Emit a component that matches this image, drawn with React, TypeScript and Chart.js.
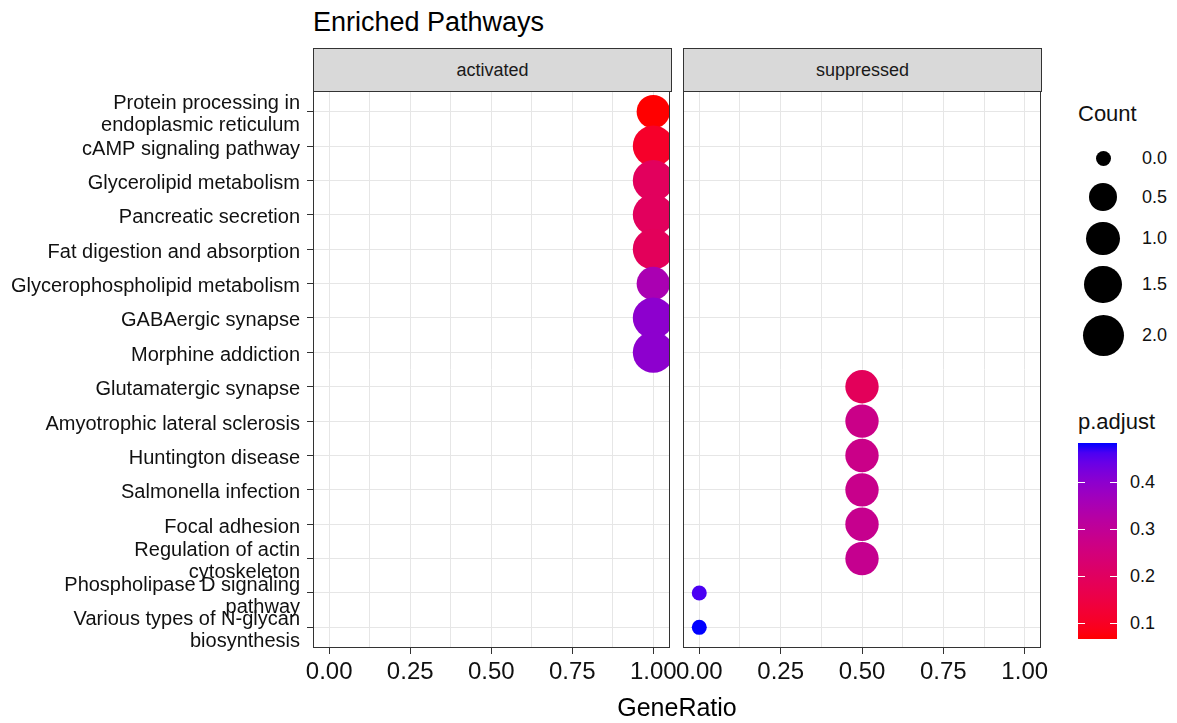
import React, { useEffect, useRef } from "react";
import { Chart, registerables } from "chart.js";

Chart.register(...registerables);

const FONT = "'Liberation Sans', Arial, Helvetica, sans-serif";
Chart.defaults.font.family = FONT;

// ---------- data ----------
const categories = [
  "Protein processing in\nendoplasmic reticulum",
  "cAMP signaling pathway",
  "Glycerolipid metabolism",
  "Pancreatic secretion",
  "Fat digestion and absorption",
  "Glycerophospholipid metabolism",
  "GABAergic synapse",
  "Morphine addiction",
  "Glutamatergic synapse",
  "Amyotrophic lateral sclerosis",
  "Huntington disease",
  "Salmonella infection",
  "Focal adhesion",
  "Regulation of actin\ncytoskeleton",
  "Phospholipase D signaling\npathway",
  "Various types of N-glycan\nbiosynthesis",
];
const groups = [
  "activated", "activated", "activated", "activated", "activated", "activated", "activated", "activated",
  "suppressed", "suppressed", "suppressed", "suppressed", "suppressed", "suppressed", "suppressed", "suppressed",
];
const facets = ["activated", "suppressed"];
const geneRatio = [1, 1, 1, 1, 1, 1, 1, 1, 0.5, 0.5, 0.5, 0.5, 0.5, 0.5, 0, 0];
const counts = [1, 2, 2, 2, 2, 1, 2, 2, 1, 1, 1, 1, 1, 1, 0, 0];
const pAdjust = [0.066, 0.108, 0.195, 0.195, 0.19, 0.35, 0.4, 0.4, 0.19, 0.275, 0.275, 0.28, 0.285, 0.287, 0.463, 0.484];
const xTicks = [0, 0.25, 0.5, 0.75, 1];
const countBreaks = [0, 0.5, 1, 1.5, 2];
const pBreaks = [0.1, 0.2, 0.3, 0.4];

// ---------- scales (size / colour) ----------
const SIZE_MIN = 15;
const SIZE_MAX = 41;
const cMin = Math.min(...counts);
const cMax = Math.max(...counts);
function diameterFor(c: number) {
  const f = Math.sqrt(Math.max(0, (c - cMin) / (cMax - cMin)));
  return SIZE_MIN + (SIZE_MAX - SIZE_MIN) * f;
}

function toLin(c: number) {
  c /= 255;
  return c <= 0.04045 ? c / 12.92 : Math.pow((c + 0.055) / 1.055, 2.4);
}
function fromLin(c: number) {
  c = Math.max(0, Math.min(1, c));
  const v = c <= 0.0031308 ? 12.92 * c : 1.055 * Math.pow(c, 1 / 2.4) - 0.055;
  return Math.round(v * 255);
}
function rgbToLab(rgb: number[]) {
  const R = toLin(rgb[0]), G = toLin(rgb[1]), B = toLin(rgb[2]);
  const X = (0.4124 * R + 0.3576 * G + 0.1805 * B) / 0.95047;
  const Y = 0.2126 * R + 0.7152 * G + 0.0722 * B;
  const Z = (0.0193 * R + 0.1192 * G + 0.9505 * B) / 1.08883;
  const f = (t: number) => (t > 0.008856 ? Math.cbrt(t) : 7.787 * t + 16 / 116);
  const fx = f(X), fy = f(Y), fz = f(Z);
  return [116 * fy - 16, 500 * (fx - fy), 200 * (fy - fz)];
}
function labToRgb(lab: number[]) {
  const fy = (lab[0] + 16) / 116;
  const fx = fy + lab[1] / 500;
  const fz = fy - lab[2] / 200;
  const inv = (t: number) => (t * t * t > 0.008856 ? t * t * t : (t - 16 / 116) / 7.787);
  const X = inv(fx) * 0.95047, Y = inv(fy), Z = inv(fz) * 1.08883;
  const R = 3.2406 * X - 1.5372 * Y - 0.4986 * Z;
  const G = -0.9689 * X + 1.8758 * Y + 0.0415 * Z;
  const B = 0.0557 * X - 0.204 * Y + 1.057 * Z;
  return [fromLin(R), fromLin(G), fromLin(B)];
}
const LOW = rgbToLab([255, 0, 0]);
const HIGH = rgbToLab([0, 0, 255]);
function colorAt(t: number) {
  const lab = LOW.map((v, k) => v + (HIGH[k] - v) * t);
  const [r, g, b] = labToRgb(lab);
  return `rgb(${r},${g},${b})`;
}
const pMin = Math.min(...pAdjust);
const pMax = Math.max(...pAdjust);
function colorForP(p: number) {
  return colorAt((p - pMin) / (pMax - pMin));
}

// ---------- geometry ----------
const PANEL_TOP = 91;
const PANEL_BOTTOM = 648;
const CANVAS_TOP = 61;
const CANVAS_H = 662;
const X_AXIS_H = CANVAS_H - (PANEL_BOTTOM - CANVAS_TOP);
const GRID = "#E6E6E6";

const xGrid: number[] = [];
xTicks.forEach((v, i) => {
  xGrid.push(v);
  if (i < xTicks.length - 1) xGrid.push((v + xTicks[i + 1]) / 2);
});
xGrid.sort((a, b) => a - b);

const panelBorder = {
  id: "panelBorder",
  afterDatasetsDraw(chart: any) {
    const { ctx, chartArea: a } = chart;
    ctx.save();
    ctx.strokeStyle = "#333333";
    ctx.lineWidth = 1;
    ctx.strokeRect(
      Math.round(a.left) + 0.5,
      Math.round(a.top) + 0.5,
      Math.round(a.right - a.left) - 1,
      Math.round(a.bottom - a.top) - 1
    );
    ctx.restore();
  },
};

type PanelProps = {
  facet: string;
  canvasLeft: number;
  canvasWidth: number;
  axisWidth: number;
  padRight: number;
  showY: boolean;
};

function Panel({ facet, canvasLeft, canvasWidth, axisWidth, padRight, showY }: PanelProps) {
  const ref = useRef<HTMLCanvasElement | null>(null);
  useEffect(() => {
    if (!ref.current) return;
    const data = categories
      .map((_, i) => ({ x: geneRatio[i], y: i, i }))
      .filter((d) => groups[d.i] === facet);
    const chart = new Chart(ref.current, {
      type: "scatter",
      data: {
        datasets: [
          {
            data,
            clip: 0,
            pointStyle: "circle",
            borderWidth: 0,
            pointRadius: (ctx: any) => diameterFor(counts[ctx.raw?.i ?? 0]) / 2,
            pointHoverRadius: (ctx: any) => diameterFor(counts[ctx.raw?.i ?? 0]) / 2,
            backgroundColor: (ctx: any) => colorForP(pAdjust[ctx.raw?.i ?? 0]),
            borderColor: "rgba(0,0,0,0)",
          } as any,
        ],
      },
      options: {
        animation: false,
        responsive: false,
        maintainAspectRatio: false,
        devicePixelRatio: 1,
        layout: { padding: { top: PANEL_TOP - CANVAS_TOP, left: 0, right: padRight, bottom: 0 } },
        plugins: { legend: { display: false }, tooltip: { enabled: false }, title: { display: false } },
        events: [],
        scales: {
          x: {
            type: "linear",
            min: -0.05,
            max: 1.05,
            afterBuildTicks: (s: any) => {
              s.ticks = xGrid.map((v) => ({ value: v }));
            },
            afterFit: (s: any) => {
              s.height = X_AXIS_H;
            },
            border: { display: false },
            grid: {
              color: GRID,
              lineWidth: 1,
              drawTicks: true,
              tickLength: 6,
              tickWidth: 1,
              tickColor: (ctx: any) =>
                ctx.tick && xTicks.includes(ctx.tick.value) ? "#333333" : "rgba(0,0,0,0)",
            },
            ticks: {
              autoSkip: false,
              maxRotation: 0,
              minRotation: 0,
              padding: 4,
              color: "#111111",
              font: { size: 24, family: FONT },
              callback: (v: any) => (xTicks.includes(Number(v)) ? Number(v).toFixed(2) : ""),
            },
          },
          y: {
            type: "linear",
            reverse: true,
            min: -0.6,
            max: categories.length - 1 + 0.6,
            afterBuildTicks: (s: any) => {
              s.ticks = categories.map((_, i) => ({ value: i }));
            },
            afterFit: (s: any) => {
              s.width = axisWidth;
            },
            border: { display: false },
            grid: {
              color: GRID,
              lineWidth: 1,
              drawTicks: showY,
              tickLength: 6,
              tickWidth: 1,
              tickColor: "#333333",
            },
            ticks: {
              display: showY,
              autoSkip: false,
              padding: 7,
              labelOffset: 3,
              color: "#111111",
              font: { size: 20, family: FONT, lineHeight: 1.1 },
              callback: (v: any) => {
                const lbl = categories[Number(v)];
                return lbl ? lbl.split("\n") : "";
              },
            },
          },
        },
      } as any,
      plugins: [panelBorder],
    });
    return () => chart.destroy();
  }, [facet, canvasLeft, canvasWidth, axisWidth, padRight, showY]);

  return (
    <canvas
      ref={ref}
      width={canvasWidth}
      height={CANVAS_H}
      style={{ position: "absolute", left: canvasLeft, top: CANVAS_TOP, width: canvasWidth, height: CANVAS_H }}
    />
  );
}

function Strip({ label, left, right }: { label: string; left: number; right: number }) {
  return (
    <div
      style={{
        position: "absolute",
        left,
        top: 48,
        width: right - left + 1,
        height: PANEL_TOP - 48 + 1,
        boxSizing: "border-box",
        border: "1px solid #333333",
        background: "#D9D9D9",
        display: "flex",
        alignItems: "center",
        justifyContent: "center",
        fontFamily: FONT,
        fontSize: 18,
        color: "#1A1A1A",
      }}
    >
      {label}
    </div>
  );
}

function CountLegend() {
  let y = 158 - Math.max(39, diameterFor(countBreaks[0]) * 1.3) / 2;
  const items = countBreaks.map((c) => {
    const d = diameterFor(c);
    const h = Math.max(39, d * 1.3);
    const cy = y + h / 2;
    y += h;
    return { c, d, cy };
  });
  return (
    <>
      <div style={{ position: "absolute", left: 1078, top: 102, fontFamily: FONT, fontSize: 22, color: "#111", lineHeight: "24px" }}>
        Count
      </div>
      {items.map((it) => (
        <React.Fragment key={it.c}>
          <div
            style={{
              position: "absolute",
              left: 1103 - it.d / 2,
              top: it.cy - it.d / 2,
              width: it.d,
              height: it.d,
              borderRadius: "50%",
              background: "#000",
            }}
          />
          <div
            style={{
              position: "absolute",
              left: 1142,
              top: it.cy - 11,
              height: 22,
              lineHeight: "22px",
              fontFamily: FONT,
              fontSize: 18,
              color: "#111",
            }}
          >
            {it.c.toFixed(1)}
          </div>
        </React.Fragment>
      ))}
    </>
  );
}

function ColorLegend() {
  const barLeft = 1078, barTop = 443, barW = 39, barH = 196;
  const stops: string[] = [];
  for (let k = 0; k <= 20; k++) {
    const t = k / 20;
    stops.push(`${colorAt(t)} ${(t * 100).toFixed(1)}%`);
  }
  return (
    <>
      <div style={{ position: "absolute", left: 1078, top: 410, fontFamily: FONT, fontSize: 22, color: "#111", lineHeight: "24px" }}>
        p.adjust
      </div>
      <div
        style={{
          position: "absolute",
          left: barLeft,
          top: barTop,
          width: barW,
          height: barH,
          background: `linear-gradient(to top, ${stops.join(", ")})`,
        }}
      />
      {pBreaks.map((p) => {
        const yy = barTop + (1 - (p - pMin) / (pMax - pMin)) * barH;
        return (
          <React.Fragment key={p}>
            <div style={{ position: "absolute", left: barLeft, top: yy - 0.5, width: 7, height: 1, background: "#fff" }} />
            <div style={{ position: "absolute", left: barLeft + barW - 7, top: yy - 0.5, width: 7, height: 1, background: "#fff" }} />
            <div
              style={{
                position: "absolute",
                left: 1130,
                top: yy - 11,
                height: 22,
                lineHeight: "22px",
                fontFamily: FONT,
                fontSize: 18,
                color: "#111",
              }}
            >
              {p.toFixed(1)}
            </div>
          </React.Fragment>
        );
      })}
    </>
  );
}

export default function App() {
  return (
    <div
      style={{
        position: "absolute",
        left: 0,
        top: 0,
        width: 1177,
        height: 723,
        background: "#fff",
        overflow: "hidden",
      }}
    >
      <div style={{ position: "absolute", left: 313, top: 6, fontFamily: FONT, fontSize: 27, color: "#000", lineHeight: "32px" }}>
        Enriched Pathways
      </div>
      <Strip label={facets[0]} left={313} right={671} />
      <Strip label={facets[1]} left={683} right={1041} />
      <Panel facet={facets[0]} canvasLeft={0} canvasWidth={690} axisWidth={313} padRight={19} showY={true} />
      <Panel facet={facets[1]} canvasLeft={655} canvasWidth={405} axisWidth={28} padRight={19} showY={false} />
      <div
        style={{
          position: "absolute",
          left: 677 - 100,
          width: 200,
          top: 693,
          textAlign: "center",
          fontFamily: FONT,
          fontSize: 25,
          color: "#000",
          lineHeight: "28px",
        }}
      >
        GeneRatio
      </div>
      <CountLegend />
      <ColorLegend />
    </div>
  );
}
